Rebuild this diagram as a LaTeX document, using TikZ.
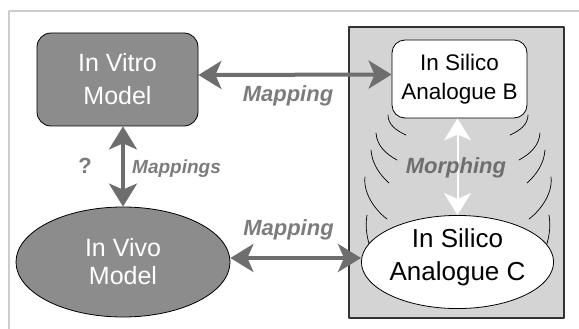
\documentclass[tikz,border=0pt]{standalone}
\usepackage{fontspec}
\setmainfont{Liberation Sans}
\usetikzlibrary{shapes.geometric,arrows.meta}
\definecolor{modelgray}{HTML}{8C8C8C}
\definecolor{arrowgray}{HTML}{6E6E6E}
\definecolor{labelgray}{HTML}{7C7C7C}
\definecolor{panelgray}{HTML}{D4D4D4}
\definecolor{framegray}{HTML}{CCCCCC}
\tikzset{
	model/.style={draw=black, fill=modelgray, text=white, line width=.8pt, inner sep=0pt, align=center},
	analogue/.style={draw=black, fill=white, line width=.8pt, inner sep=0pt, align=center},
	maparrow/.style={arrowgray, line width=4pt, {Stealth[length=23pt,width=28pt,inset=6pt]}-{Stealth[length=23pt,width=28pt,inset=6pt]}},
	morpharrow/.style={white, line width=2pt, {Stealth[length=22pt,width=27pt,inset=6pt]}-{Stealth[length=22pt,width=27pt,inset=6pt]}},
	maplabel/.style={text=labelgray, inner sep=0pt, anchor=base, font=\bfseries\itshape\fontsize{22}{26}\selectfont},
	ripple/.style={black, line width=.7pt},
}
\begin{document}
\begin{tikzpicture}[x=1pt, y=-1pt, line join=round, line cap=round]
		\useasboundingbox (0,0) rectangle (579,329);
		\draw[framegray, line width=1.5pt] (9,329)--(9,11)--(579,11);
		\draw[fill=panelgray, draw=black!80, line width=1.2pt] (349,27) rectangle (564,318);
		% ripples on both sides of the morphing arrow
		\foreach \s in {1,-1}{
			\begin{scope}[xshift=458pt, xscale=\s]
				\draw[ripple] (-70,115) .. controls (-70,125) and (-61,131) .. (-52,135);
				\draw[ripple] (-82,133) .. controls (-81,146) and (-72,154) .. (-61,160);
				\draw[ripple] (-87,150) .. controls (-86,164) and (-78,175) .. (-69,183);
				\draw[ripple] (-93,177) .. controls (-95,193) and (-83,210) .. (-71,219);
				\draw[ripple] (-91,215) .. controls (-93,228) and (-91,240) .. (-86,252);
			\end{scope}
		}
		\node[model, rounded corners=14pt, minimum width=161pt, minimum height=93pt, font=\fontsize{25}{33}\selectfont] (vitro) at (117.5,79.5) {In Vitro\\Model};
		\node[model, ellipse, minimum width=214pt, minimum height=110pt, font=\fontsize{25}{28}\selectfont] (vivo) at (123,262) {In Vivo\\Model};
		\node[analogue, rounded corners=13pt, minimum width=135pt, minimum height=78pt, font=\fontsize{22.5}{29}\selectfont] (silB) at (459.5,79) {In Silico\\Analogue B};
		\node[analogue, ellipse, minimum width=189pt, minimum height=92pt, text depth=14pt, font=\fontsize{26}{33}\selectfont] (silC) at (457.5,262) {In Silico\\Analogue C};
		\draw[maparrow] ([yshift=4.5pt]vitro.east)--([yshift=4.5pt]silB.west);
		\draw[maparrow] (vivo.north |- vitro.south)--(vivo.north);
		\draw[maparrow] ([yshift=4pt]vivo.east)--([yshift=4pt]silC.west);
		\draw[morpharrow] (silB.south -| silC.north)--(silC.north);
		\node[maplabel] (mapup) at (288,102) {Mapping};
		\node[maplabel] (maplow) at (288.5,235) {Mapping};
		\node[maplabel, anchor=base west, font=\bfseries\itshape\fontsize{19}{22}\selectfont] (mapvert) at (132,173) {Mappings};
		\node[maplabel, font=\bfseries\fontsize{22}{26}\selectfont] (query) at (85,173) {?};
		\node[maplabel, text=arrowgray] (morph) at (456,173) {Morphing};
	\end{tikzpicture}
\end{document}
